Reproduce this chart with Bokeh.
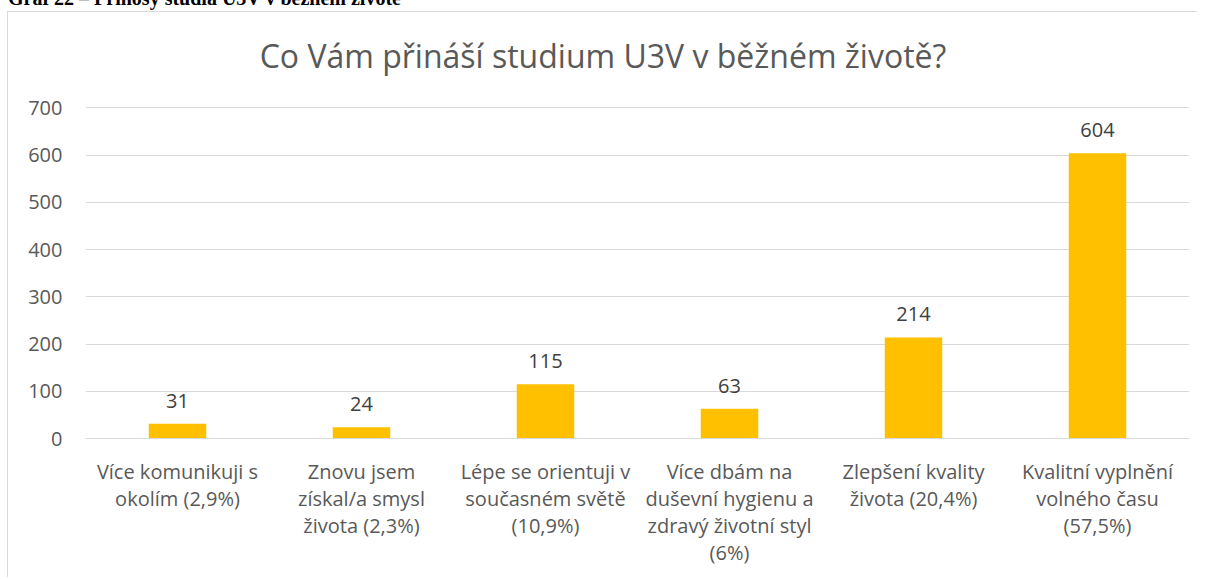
from bokeh.plotting import figure
from bokeh.models import ColumnDataSource, Range1d, FactorRange, Div, Label
from bokeh.layouts import column
from bokeh.embed import file_html
from bokeh.resources import INLINE

header_text = "Graf 22 – Přínosy studia U3V v běžném životě"
title_text = "Co Vám přináší studium U3V v běžném životě?"
categories = [
    "Více komunikuji s\nokolím (2,9%)",
    "Znovu jsem\nzískal/a smysl\nživota (2,3%)",
    "Lépe se orientuji v\nsoučasném světě\n(10,9%)",
    "Více dbám na\nduševní hygienu a\nzdravý životní styl\n(6%)",
    "Zlepšení kvality\nživota (20,4%)",
    "Kvalitní vyplnění\nvolného času\n(57,5%)",
]
values = [31, 24, 115, 63, 214, 604]
labels = [str(v) for v in values]
y_ticks = [0, 100, 200, 300, 400, 500, 600, 700]

FONT = "Open Sans"

src = ColumnDataSource(data=dict(cat=categories, val=values, lab=labels))

# the frame is extended upwards so that the chart title can sit inside it;
# grid lines and tick labels stop at 700 as in the reference
p = figure(
    x_range=FactorRange(factors=categories, range_padding=0),
    y_range=Range1d(0, 900),
    width=1190, height=566,
    output_backend="svg", toolbar_location=None,
    min_border_left=77, min_border_right=9, min_border_top=1, min_border_bottom=140,
)
p.styles = {"border-left": "1px solid #d9d9d9", "border-top": "1px solid #d9d9d9",
            "margin-left": "7px", "margin-top": "-2px"}

p.vbar(x="cat", top="val", width=0.3125, source=src, color="#FFC000", line_color=None)
p.text(x="cat", y="val", text="lab", source=src, text_align="center", text_baseline="bottom",
       y_offset=-16, text_font_size="20px", text_color="#404040", text_font={"value": FONT})

p.add_layout(Label(x=2.8125, y=811, text=title_text, text_align="center", text_baseline="alphabetic",
                   text_font=FONT, text_font_size="32px", text_color="#595959"))

p.outline_line_color = None
p.xgrid.grid_line_color = None
p.ygrid.grid_line_color = "#d9d9d9"
p.ygrid.grid_line_width = 1

p.yaxis.ticker = y_ticks
p.yaxis.axis_line_color = None
p.yaxis.major_tick_line_color = None
p.yaxis.minor_tick_line_color = None
p.yaxis.major_label_text_font = FONT
p.yaxis.major_label_text_font_size = "20px"
p.yaxis.major_label_text_color = "#595959"
p.yaxis.major_label_standoff = 17

p.xaxis.axis_line_color = "#d9d9d9"
p.xaxis.major_tick_line_color = None
p.xaxis.minor_tick_line_color = None
p.xaxis.major_label_text_font = FONT
p.xaxis.major_label_text_font_size = "20px"
p.xaxis.major_label_text_color = "#595959"
p.xaxis.major_label_standoff = 13
p.xaxis.major_label_text_line_height = 1.0

header = Div(
    text=('<div style="font-family:\'Liberation Serif\';font-weight:bold;font-size:20px;'
          'line-height:20px;color:#000;white-space:nowrap;margin:0;padding:0">'
          + header_text + '</div>'),
    width=600, height=20,
    styles={"margin-top": "-12px", "margin-left": "8px", "padding": "0"},
)

layout = column(header, p, spacing=0)

open("out.html", "w").write(file_html(layout, INLINE))
